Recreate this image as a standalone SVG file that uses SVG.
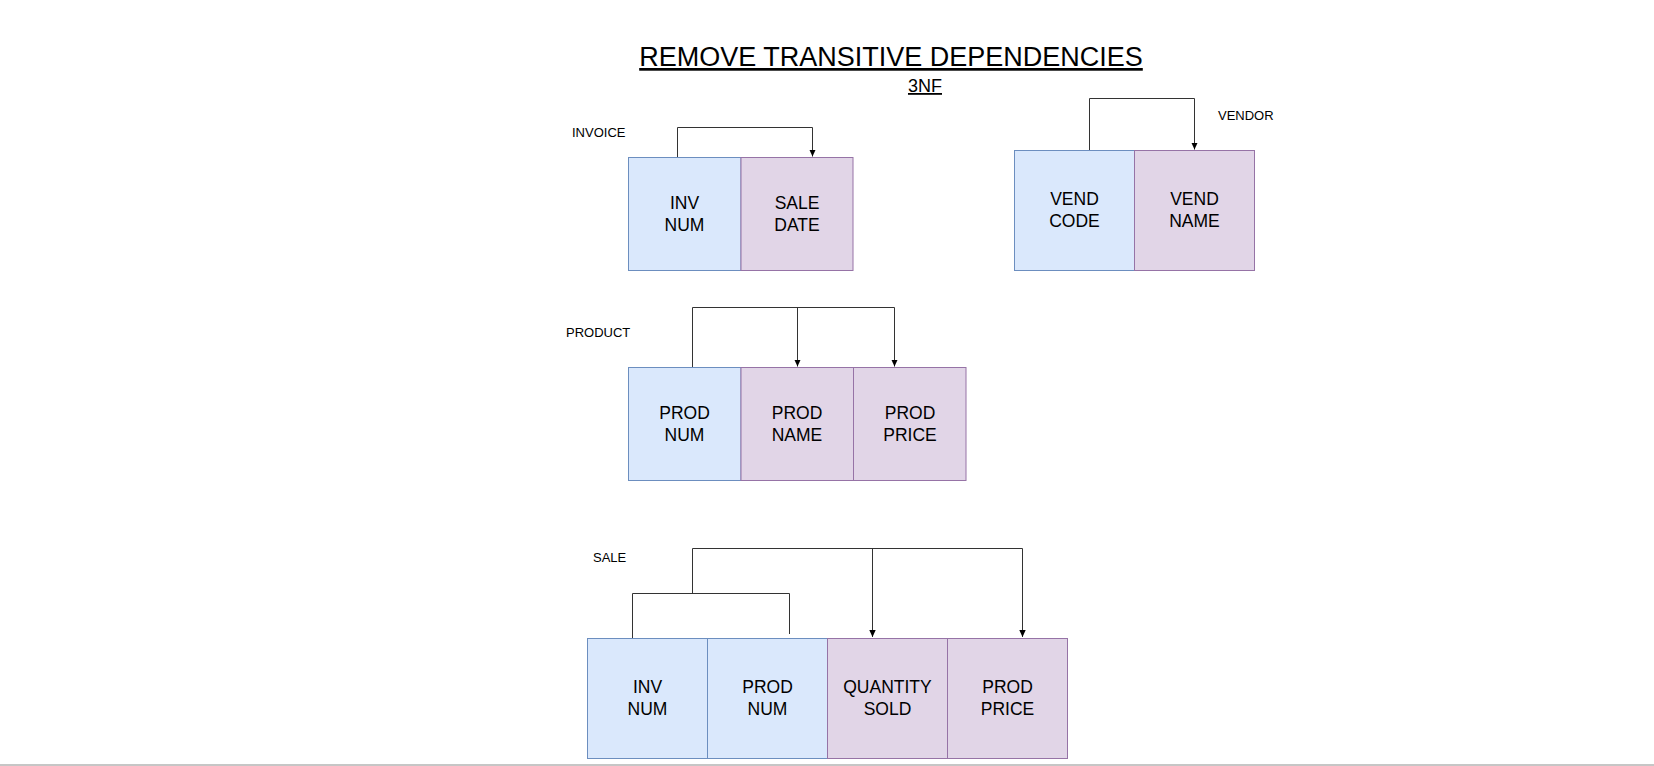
<svg xmlns="http://www.w3.org/2000/svg" width="1654" height="766" viewBox="0 0 1654 766">
<defs>
<style>
.key{fill:#dae8fc;stroke:#6c8ebf;stroke-width:1}
.att{fill:#e1d5e7;stroke:#9673a6;stroke-width:1}
.cell{font-family:"Liberation Sans",Arial,sans-serif;font-size:17.5px;fill:#000;text-anchor:middle}
.lbl{font-family:"Liberation Sans",Arial,sans-serif;font-size:13px;fill:#000}
.conn{fill:none;stroke:#333;stroke-width:1}
</style>
<marker id="arr" markerUnits="userSpaceOnUse" markerWidth="8" markerHeight="8" viewBox="0 0 8 8" refX="7" refY="4" orient="auto">
<path d="M0,0.8 L7,4 L0,7.2 Z" fill="#000"/>
</marker>
</defs>
<rect width="1654" height="766" fill="#fff"/>
<g id="title">
<text x="891" y="66" font-family="'Liberation Sans',Arial,sans-serif" font-size="27" text-anchor="middle" text-decoration="underline" fill="#000">REMOVE TRANSITIVE DEPENDENCIES</text>
<text x="925" y="92" font-family="'Liberation Sans',Arial,sans-serif" font-size="18" text-anchor="middle" text-decoration="underline" fill="#000">3NF</text>
</g>
<g id="invoice">
<text class="lbl" x="572" y="137">INVOICE</text>
<rect class="key" x="628.5" y="157.5" width="112.5" height="113"/>
<rect class="att" x="741" y="157.5" width="112" height="113"/>
<text class="cell" x="684.5" y="209">INV</text>
<text class="cell" x="684.5" y="231">NUM</text>
<text class="cell" x="797" y="209">SALE</text>
<text class="cell" x="797" y="231">DATE</text>
</g>
<g id="vendor">
<text class="lbl" x="1218" y="120">VENDOR</text>
<rect class="key" x="1014.5" y="150.5" width="120" height="120"/>
<rect class="att" x="1134.5" y="150.5" width="120" height="120"/>
<text class="cell" x="1074.5" y="205">VEND</text>
<text class="cell" x="1074.5" y="227">CODE</text>
<text class="cell" x="1194.5" y="205">VEND</text>
<text class="cell" x="1194.5" y="227">NAME</text>
</g>
<g id="product">
<text class="lbl" x="566" y="337">PRODUCT</text>
<rect class="key" x="628.5" y="367.5" width="112.5" height="113"/>
<rect class="att" x="741" y="367.5" width="112.5" height="113"/>
<rect class="att" x="853.5" y="367.5" width="112.5" height="113"/>
<text class="cell" x="684.5" y="419">PROD</text>
<text class="cell" x="684.5" y="441">NUM</text>
<text class="cell" x="797" y="419">PROD</text>
<text class="cell" x="797" y="441">NAME</text>
<text class="cell" x="910" y="419">PROD</text>
<text class="cell" x="910" y="441">PRICE</text>
</g>
<g id="sale">
<text class="lbl" x="593" y="562">SALE</text>
<rect class="key" x="587.5" y="638.5" width="120" height="120"/>
<rect class="key" x="707.5" y="638.5" width="120" height="120"/>
<rect class="att" x="827.5" y="638.5" width="120" height="120"/>
<rect class="att" x="947.5" y="638.5" width="120" height="120"/>
<text class="cell" x="647.5" y="693">INV</text>
<text class="cell" x="647.5" y="715">NUM</text>
<text class="cell" x="767.5" y="693">PROD</text>
<text class="cell" x="767.5" y="715">NUM</text>
<text class="cell" x="887.5" y="693">QUANTITY</text>
<text class="cell" x="887.5" y="715">SOLD</text>
<text class="cell" x="1007.5" y="693">PROD</text>
<text class="cell" x="1007.5" y="715">PRICE</text>
</g>
<g id="connectors">
<path class="conn" d="M677.5 157 V127.5 H812.5 V156.5" marker-end="url(#arr)"/>
<path class="conn" d="M1089.5 150 V98.5 H1194.5 V149.5" marker-end="url(#arr)"/>
<path class="conn" d="M692.5 367 V307.5 H894.5 V366.5" marker-end="url(#arr)"/>
<path class="conn" d="M797.5 307.5 V366.5" marker-end="url(#arr)"/>
<path class="conn" d="M632.5 638 V593.5 H789.5 V634"/>
<path class="conn" d="M692.5 593.5 V548.5 H1022.5 V637" marker-end="url(#arr)"/>
<path class="conn" d="M872.5 548.5 V637" marker-end="url(#arr)"/>
</g>
<line x1="0" y1="765" x2="1654" y2="765" stroke="#c6c6c6" stroke-width="2"/>
</svg>
